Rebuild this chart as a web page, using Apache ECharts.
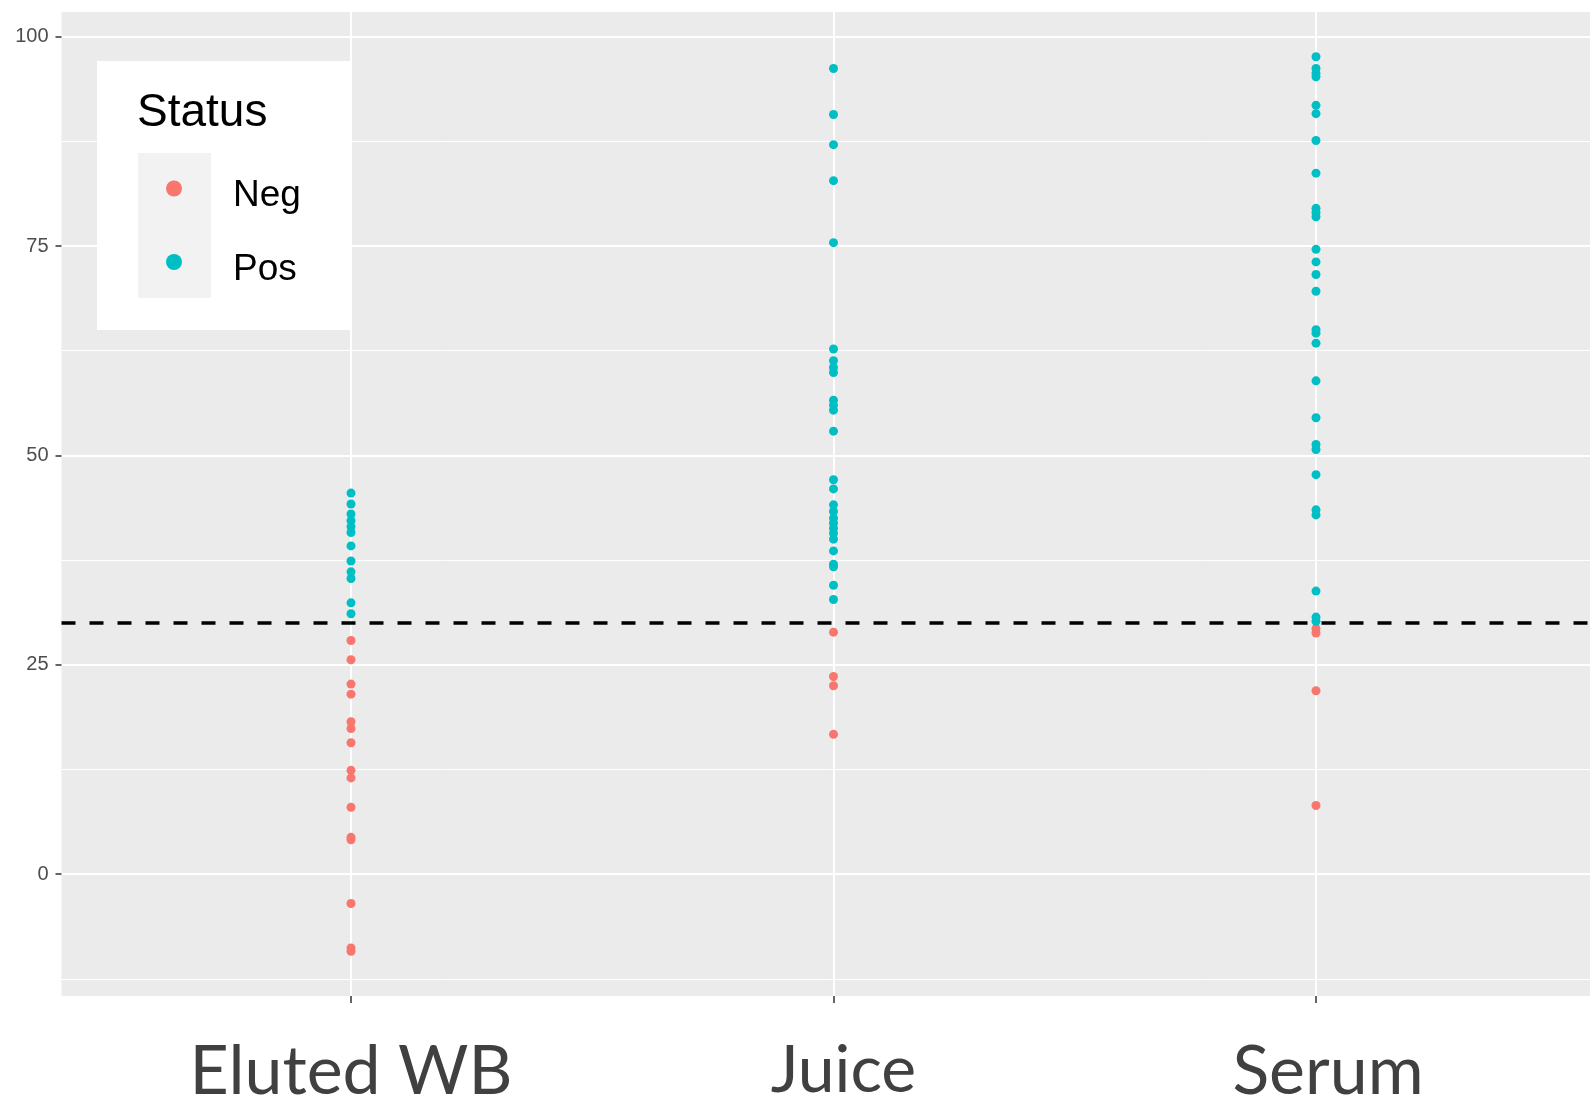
<!DOCTYPE html>
<html><head><meta charset="utf-8">
<script src="https://cdn.jsdelivr.net/npm/echarts@6/dist/echarts.min.js"></script>
<style>html,body{margin:0;padding:0;background:#fff}#c{width:1590px;height:1111px}</style>
</head><body><div id="c"></div>
<script>
const categories = ['Eluted WB', 'Juice', 'Serum'];
const statuses = ['Neg', 'Pos'];
const elutedNeg = [27.9, 25.6, 22.7, 21.5, 18.2, 17.4, 15.7, 12.4, 11.5, 8.0, 4.4, 4.1, -3.5, -8.8, -9.2];
const elutedPos = [45.5, 44.2, 43.0, 42.2, 41.5, 40.8, 39.2, 37.4, 36.1, 35.3, 32.4, 31.1];
const juiceNeg = [28.9, 23.6, 22.5, 16.7];
const juicePos = [96.2, 90.7, 87.1, 82.8, 75.4, 62.7, 61.3, 60.5, 59.9, 56.6, 56.0, 55.4, 52.9,
  47.1, 46.0, 44.1, 43.3, 42.5, 41.9, 41.3, 40.7, 40.0, 38.6, 37.0, 36.7, 34.5, 32.8];
const serumNeg = [29.3, 28.8, 21.9, 8.2];
const serumPos = [97.6, 96.2, 95.6, 95.2, 91.8, 90.8, 87.6, 83.7, 79.5, 79.0, 78.5, 74.6, 73.1, 71.6,
  69.6, 65.0, 64.6, 63.4, 58.9, 54.5, 51.3, 50.7, 47.7, 43.5, 42.9, 33.8, 30.7, 30.2];
const yTicks = [0, 25, 50, 75, 100];
const yMinorTicks = [-12.5, 12.5, 37.5, 62.5, 87.5];
const cutoff = 30;

const catPos = categories.map((c, i) => i + 1);
function pts(arr, i) { return arr.map(v => [catPos[i], v]); }
const negData = [].concat(pts(elutedNeg, 0), pts(juiceNeg, 1), pts(serumNeg, 2));
const posData = [].concat(pts(elutedPos, 0), pts(juicePos, 1), pts(serumPos, 2));

const allVals = negData.concat(posData).map(d => d[1]);
const dmin = Math.min(...allVals), dmax = Math.max(...allVals);
const pad = (dmax - dmin) * 0.05;
const yMin = dmin - pad, yMax = dmax + pad;

// discrete axis: 0.6 units of expansion on the left; panel is cut by the image edge on the right
const unitPx = 482.5, gridLeft = 61.5, pageW = 1590;
const xMin = 0.4, xMax = xMin + (pageW - gridLeft) / unitPx;

const chart = echarts.init(document.getElementById('c'));
const yBase = {
  type: 'value', min: yMin, max: yMax,
  axisLine: { show: false }
};
chart.setOption({
  animation: false,
  backgroundColor: '#ffffff',
  grid: { left: gridLeft, top: 12, right: 0, height: 984, show: true, backgroundColor: '#EBEBEB', borderWidth: 0 },
  xAxis: {
    type: 'value', min: xMin, max: xMax,
    axisLine: { show: false, onZero: false },
    axisTick: { show: true, customValues: catPos, length: 7, lineStyle: { color: '#333333', width: 1.5 } },
    axisLabel: {
      customValues: catPos, margin: 42,
      formatter: v => { const i = Math.round(v) - 1; return '{c' + i + '|' + categories[i] + '}'; },
      rich: {
        c0: { fontFamily: 'Lato', fontSize: 68, color: '#404040' },
        c1: { fontFamily: 'Lato', fontSize: 66, color: '#404040', padding: [0, 0, 0, 20] },
        c2: { fontFamily: 'Lato', fontSize: 68, color: '#404040', padding: [0, 0, 0, 24] }
      }
    },
    splitLine: { show: true, lineStyle: { color: '#ffffff', width: 2 } }
  },
  yAxis: [
    Object.assign({}, yBase, {
      axisTick: { show: true, customValues: yTicks, length: 6, lineStyle: { color: '#333333', width: 1.5 } },
      axisLabel: { customValues: yTicks, margin: 13, fontFamily: 'Liberation Sans', fontSize: 20, color: '#4D4D4D' },
      splitLine: { show: true, lineStyle: { color: '#ffffff', width: 2 } }
    }),
    Object.assign({}, yBase, {
      position: 'right',
      axisTick: { show: false, customValues: yMinorTicks },
      axisLabel: { show: false, customValues: yMinorTicks },
      splitLine: { show: true, lineStyle: { color: '#ffffff', width: 1 } }
    })
  ],
  legend: {
    data: statuses, orient: 'vertical', left: 161, top: 165, itemGap: 29,
    icon: 'circle', itemWidth: 16, itemHeight: 16, selectedMode: false, z: 10,
    formatter: name => '{s| }{t|' + name + '}',
    textStyle: {
      fontFamily: 'Liberation Sans', fontSize: 37, color: '#000000',
      rich: {
        s: { fontSize: 37, lineHeight: 52, width: 1 },
        t: { fontFamily: 'Liberation Sans', fontSize: 37, color: '#000000', lineHeight: 40, verticalAlign: 'bottom', padding: [0, 0, 0, 45] }
      }
    }
  },
  graphic: [
    { type: 'rect', z: 3, shape: { x: 97, y: 61, width: 253, height: 269 }, style: { fill: '#ffffff' } },
    { type: 'rect', z: 4, shape: { x: 138, y: 153, width: 73, height: 145 }, style: { fill: '#F2F2F2' } },
    { type: 'text', z: 5, x: 137, y: 113, style: { text: 'Status', font: '46px "Liberation Sans"', fill: '#000000', verticalAlign: 'middle' } }
  ],
  series: [
    { name: 'Neg', type: 'scatter', data: negData, symbolSize: 9, itemStyle: { color: '#F8766D', opacity: 1 } },
    { name: 'Pos', type: 'scatter', data: posData, symbolSize: 9, itemStyle: { color: '#00BFC4', opacity: 1 } },
    { name: 'cutoff', type: 'scatter', data: [], z: 6,
      markLine: { silent: true, symbol: 'none', label: { show: false },
        lineStyle: { color: '#000000', type: [14, 14], width: 3.5 },
        data: [{ yAxis: cutoff }] } }
  ]
});
</script>
</body></html>
